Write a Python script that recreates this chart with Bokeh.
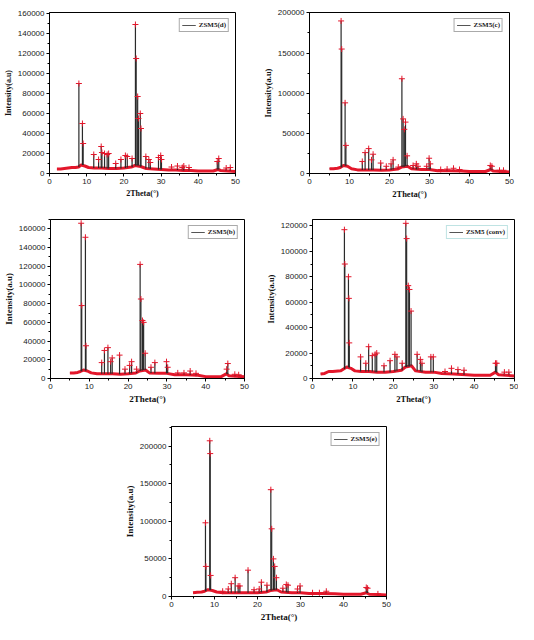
from bokeh.plotting import figure
from bokeh.models import (Range1d, SingleIntervalTicker, BasicTickFormatter,
                          Legend, LegendItem, Spacer)
from bokeh.layouts import row, column
from bokeh.embed import file_html
from bokeh.resources import INLINE

# ---------------- data ----------------
# ZSM5(d)
d_base_x = [2, 3, 4, 5, 6, 7, 7.8, 8.5, 9.5, 10.5, 12, 14, 16, 18, 20, 22, 23, 24.5, 26, 28, 30, 32, 34, 36, 38, 40, 42, 44, 45.3, 46, 48, 50]
d_base_y = [4500, 4500, 5000, 5500, 6000, 6000, 6500, 8500, 7500, 6000, 5500, 5500, 5000, 5000, 5500, 6500, 8000, 7000, 5000, 4500, 4000, 3500, 3500, 3000, 3000, 2500, 2500, 2500, 4000, 3000, 2500, 2000]
d_peak_x = [7.9, 8.85, 9.05, 11.9, 13.2, 13.9, 14.1, 14.8, 15.5, 15.9, 17.8, 19.2, 20.4, 20.9, 22.2, 23.1, 23.3, 23.7, 23.9, 24.4, 24.6, 25.9, 26.7, 27.1, 29.3, 29.9, 30.1, 32.8, 34.4, 35.7, 36.1, 37.5, 45.1, 45.5, 47.5, 48.6]
d_peak_y = [90000, 50000, 30000, 19000, 14000, 27000, 21000, 20000, 19000, 20000, 10000, 14000, 18000, 17000, 15000, 149000, 115000, 77000, 55000, 60000, 45000, 17000, 14000, 11000, 16000, 18000, 14000, 6500, 7500, 6000, 7500, 6000, 12000, 15000, 5500, 6000]
d_peak_b = [6500, 8500, 8500, 5500, 5500, 5500, 5500, 5500, 5000, 5000, 5000, 5000, 5500, 6000, 6500, 8000, 8000, 8000, 8000, 7000, 7000, 5000, 5000, 4500, 4000, 4000, 4000, 3500, 3500, 3000, 3000, 3000, 4000, 4000, 2500, 2500]

# ZSM5(c)
c_base_x = [5, 6, 7, 7.7, 8.5, 9.5, 10.5, 12, 14, 16, 18, 20, 22, 23, 24.5, 25.5, 28, 30, 32, 35, 38, 40, 42, 44, 45.3, 46, 48, 50]
c_base_y = [6000, 6000, 6500, 7500, 10000, 9000, 6000, 4500, 4500, 4500, 4000, 4500, 5500, 8000, 9000, 6000, 5000, 5000, 3500, 3500, 3000, 2500, 2500, 2500, 5000, 3000, 2500, 2000]
c_peak_x = [7.9, 8.05, 8.9, 9.1, 13.2, 13.9, 14.8, 15.5, 15.9, 17.8, 19.2, 20.4, 20.9, 22.2, 23.1, 23.4, 23.7, 24.0, 24.4, 25.9, 26.7, 27.1, 29.3, 29.9, 30.2, 32.8, 34.4, 36.0, 37.5, 45.2, 45.6, 47.5, 48.5]
c_peak_y = [190000, 155000, 88000, 35000, 15000, 26000, 31000, 17000, 24000, 13000, 9000, 12000, 17000, 8000, 118000, 68000, 55000, 64000, 22000, 10000, 12000, 9000, 9000, 19000, 12000, 5000, 5500, 6500, 5000, 10000, 9000, 4000, 4000]
c_peak_b = [7500, 8000, 10000, 9500, 4500, 4500, 4500, 4500, 4500, 4000, 4500, 4500, 5000, 5500, 8000, 8500, 8500, 9000, 9000, 5500, 5000, 5000, 5000, 5000, 5000, 3500, 3500, 3500, 3000, 5000, 4500, 2500, 2500]

# ZSM5(b)
b_base_x = [5, 6, 7, 7.7, 8.5, 9.5, 10.5, 12, 14, 16, 18, 20, 22, 23, 24.5, 25.5, 28, 30, 32, 35, 38, 40, 42, 44, 45.3, 46, 48, 50]
b_base_y = [6000, 6000, 6500, 7500, 9000, 8000, 6000, 5000, 5000, 5000, 4500, 5000, 6000, 8000, 9000, 6000, 5500, 5500, 4000, 4000, 3500, 2000, 2000, 2000, 5000, 3000, 2500, 2000]
b_peak_x = [7.9, 8.05, 9.0, 9.15, 13.2, 13.9, 14.8, 15.5, 15.9, 17.8, 19.2, 20.4, 20.9, 22.2, 23.1, 23.3, 23.7, 24.0, 24.4, 25.9, 26.9, 29.9, 30.2, 32.8, 34.4, 36.0, 37.5, 45.4, 45.7, 47.5, 48.5]
b_peak_y = [166000, 78000, 151000, 35000, 17000, 30000, 33000, 18000, 22000, 25000, 10000, 14000, 18000, 10000, 122000, 85000, 62000, 60000, 27000, 12000, 17000, 18000, 12000, 6000, 6000, 8000, 5500, 10000, 16000, 4500, 4000]
b_peak_b = [7500, 8000, 8500, 8500, 5000, 5000, 5000, 5000, 5000, 4500, 5000, 5000, 5500, 6000, 8000, 8500, 8500, 9000, 9000, 6000, 5500, 5500, 5500, 4000, 4000, 4000, 3500, 5000, 4500, 2500, 2500]

# ZSM5 (conv)
v_base_x = [2, 3, 4, 5, 7, 7.7, 8.5, 9.5, 10.5, 12, 14, 16, 18, 20, 22, 23, 24.5, 25.5, 28, 30, 32, 35, 38, 40, 42, 44, 45.3, 46, 48, 50]
v_base_y = [3500, 4000, 5500, 5500, 6000, 7500, 9000, 8000, 6000, 5500, 5500, 5000, 5000, 5500, 6500, 9000, 10000, 6000, 5000, 5000, 4000, 3500, 3000, 2500, 2500, 2500, 5000, 3000, 2500, 2000]
v_peak_x = [7.9, 8.0, 8.9, 9.0, 9.1, 11.9, 13.2, 13.9, 14.8, 15.5, 15.9, 17.7, 19.2, 20.4, 20.9, 22.2, 23.1, 23.3, 23.7, 24.0, 24.4, 25.9, 26.7, 27.1, 29.3, 29.9, 32.8, 34.4, 36.0, 37.5, 45.3, 45.6, 47.5, 48.6]
v_peak_y = [117000, 90000, 80000, 63000, 28000, 17000, 12000, 25000, 18000, 19000, 20000, 10000, 14000, 19000, 17000, 12000, 122000, 110000, 73000, 70000, 53000, 19000, 15000, 12000, 17000, 17000, 5500, 8000, 7000, 6500, 12000, 12000, 5000, 5000]
v_peak_b = [7500, 8000, 9000, 9000, 8500, 5500, 5500, 5500, 5500, 5000, 5000, 5000, 5000, 5500, 6000, 6500, 9000, 9000, 9500, 9500, 10000, 6000, 5500, 5000, 5000, 5000, 4000, 3500, 3500, 3000, 5000, 4500, 2500, 2500]

# ZSM5(e)
e_base_x = [5, 6, 7, 7.7, 8.5, 9.5, 10.5, 12, 14, 16, 18, 20, 22, 23, 24.5, 25.5, 28, 30, 32, 35, 38, 40, 42, 44, 45.3, 46, 48, 50]
e_base_y = [5000, 5500, 6000, 7000, 9000, 8000, 6000, 5000, 5000, 5000, 5000, 5000, 6000, 8000, 9000, 6000, 5000, 5000, 4000, 4000, 3500, 3000, 3000, 3000, 5000, 3000, 2500, 2000]
e_peak_x = [7.9, 8.0, 8.9, 9.0, 9.1, 11.9, 13.2, 13.9, 14.8, 15.5, 15.9, 17.8, 19.2, 20.4, 20.9, 22.2, 23.1, 23.3, 23.7, 24.0, 24.4, 25.9, 26.7, 27.1, 29.3, 29.9, 32.8, 34.4, 36.0, 45.3, 45.6, 48.0]
e_peak_y = [98000, 40000, 207000, 190000, 28000, 7000, 10000, 17000, 25000, 14000, 14000, 35000, 9000, 10000, 19000, 15000, 142000, 90000, 50000, 40000, 25000, 11000, 16000, 15000, 10000, 14000, 5000, 5000, 7000, 12000, 11000, 3500]
e_peak_b = [7000, 7500, 9000, 9000, 8500, 5000, 5000, 5000, 5000, 5000, 5000, 5000, 5000, 5000, 5500, 6000, 8000, 8000, 8500, 8500, 9000, 6000, 5500, 5000, 5000, 5000, 4000, 4000, 4000, 5000, 4500, 2500]

x_ticks_interval = 10
RED = "#e3172b"
DARK = "#2a2a2a"
TEAL = "#7fc8c8"


def make(w, h, bl, br, bt, bb, ymax, yint, bx, by, px, py, pb, name,
         tick_fs, lab_fs, legend_color="#555", label_box=False):
    p = figure(width=w, height=h, output_backend="svg", toolbar_location=None,
               x_range=Range1d(0, 50), y_range=Range1d(0, ymax),
               min_border_left=bl, min_border_right=br,
               min_border_top=bt, min_border_bottom=bb)
    p.xgrid.visible = False
    p.ygrid.visible = False
    p.outline_line_color = "black"
    p.outline_line_width = 1
    p.outline_line_alpha = 1
    p.xaxis.ticker = SingleIntervalTicker(interval=x_ticks_interval, num_minor_ticks=2)
    p.yaxis.ticker = SingleIntervalTicker(interval=yint, num_minor_ticks=2)
    p.yaxis.formatter = BasicTickFormatter(use_scientific=False)
    for ax in (p.xaxis[0], p.yaxis[0]):
        ax.axis_line_color = "black"
        ax.major_tick_line_color = "black"
        ax.minor_tick_line_color = "black"
        ax.major_tick_out = 3
        ax.major_tick_in = 0
        ax.minor_tick_out = 2
        ax.minor_tick_in = 0
        ax.major_label_text_font = "Liberation Sans"
        ax.major_label_text_font_size = f"{tick_fs}px"
        ax.major_label_text_color = "#1a1a1a"
        ax.major_label_standoff = 2
        ax.axis_label_text_font = "Liberation Serif"
        ax.axis_label_text_font_style = "bold"
        ax.axis_label_text_font_size = f"{lab_fs}px"
        ax.axis_label_text_color = "#111111"
        ax.axis_label_standoff = 2
        if label_box:
            props = ax.properties()
            if "axis_label_border_line_color" in props:
                ax.axis_label_border_line_color = TEAL
            if "axis_label_background_fill_color" in props:
                ax.axis_label_background_fill_color = "#eef8f8"
            if "axis_label_padding" in props:
                ax.axis_label_padding = 1
    p.xaxis.axis_label = "2Theta(°)"
    p.yaxis.axis_label = "Intensity(a.u)"

    base = p.line(bx, by, line_color=DARK, line_width=0.8)
    p.line(bx, by, line_color=RED, line_width=3, line_join="round")
    p.segment(x0=px, y0=pb, x1=px, y1=py, line_color=DARK, line_width=1.2)
    p.scatter(px, py, marker="cross", size=6, line_color=RED, line_width=1)

    leg = Legend(items=[LegendItem(label=name, renderers=[base])],
                 location="top_right")
    leg.label_text_font = "Liberation Serif"
    leg.label_text_font_style = "bold"
    leg.label_text_font_size = "7px"
    leg.label_text_color = "#222222"
    leg.glyph_width = 14
    leg.glyph_height = 6
    leg.label_height = 6
    leg.label_standoff = 3
    leg.padding = 2
    leg.margin = 6
    leg.spacing = 0
    leg.border_line_color = legend_color
    leg.border_line_width = 1
    leg.background_fill_alpha = 1
    p.add_layout(leg)
    return p


p1 = make(259, 208, 42, 24, 4, 33, 161000, 20000, d_base_x, d_base_y, d_peak_x, d_peak_y, d_peak_b, "ZSM5(d)", 8, 8)
p2 = make(259, 208, 43, 9, 12, 35, 200500, 50000, c_base_x, c_base_y, c_peak_x, c_peak_y, c_peak_b, "ZSM5(c)", 8, 8.5)
p3 = make(259, 206, 44, 15, 4, 28, 170000, 20000, b_base_x, b_base_y, b_peak_x, b_peak_y, b_peak_b, "ZSM5(b)", 8, 9)
p4 = make(259, 206, 53, 4, 11, 36, 125000, 20000, v_base_x, v_base_y, v_peak_x, v_peak_y, v_peak_b, "ZSM5 (conv)", 8, 8.5, legend_color=TEAL, label_box=True)
p5 = make(272, 210, 51, 6, 12, 27, 226000, 50000, e_base_x, e_base_y, e_peak_x, e_peak_y, e_peak_b, "ZSM5(e)", 8, 9)

layout = column(row(p1, p2), row(p3, p4), row(Spacer(width=120, height=210), p5))

with open("out.html", "w") as f:
    f.write(file_html(layout, INLINE))
